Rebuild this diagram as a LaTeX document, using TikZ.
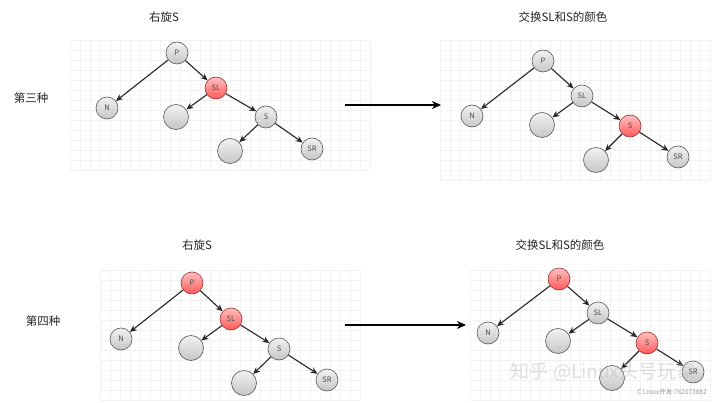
\documentclass[tikz,border=0pt]{standalone}
\usepackage{fontspec}
\setmainfont{Noto Sans CJK SC}
\usetikzlibrary{arrows.meta}
\tikzset{
  gridbg/.style={draw=gray!10, line width=0.35pt},
  nd/.style={circle, draw=gray!70!black, line width=0.6pt, minimum size=22pt, inner sep=0pt,
     top color=gray!10, bottom color=gray!45, font=\fontsize{7.5}{7.5}\selectfont, text=black!70},
  ndred/.style={nd, draw=red!50!black!80, top color=red!25, bottom color=red!65},
  ndempty/.style={nd, minimum size=25pt},
  edge/.style={draw=black!85, line width=1.1pt, -{Stealth[length=7pt,width=6pt]}},
  bigarrow/.style={draw=black, line width=1.8pt, -{Stealth[length=9pt,width=8pt]}},
  title/.style={font=\fontsize{11.5}{11.5}\selectfont, text=black!85},
  side/.style={font=\fontsize{11.5}{11.5}\selectfont, text=black!85}
}
\newcommand{\bggrid}[4]{%
  \foreach \gx in {#1,...,#3} {\draw[gridbg] (\gx*10,#2*10) -- (\gx*10,#4*10);}
  \foreach \gy in {#2,...,#4} {\draw[gridbg] (#1*10,\gy*10) -- (#3*10,\gy*10);}
}
\begin{document}
\begin{tikzpicture}[x=1pt,y=-1pt]
\useasboundingbox (0,0) rectangle (720,403);
\fill[white] (0,0) rectangle (720,403);
% grids (in units of 10px)
\bggrid{7}{4}{37}{17}
\bggrid{44}{4}{71}{18}
\bggrid{10}{27}{36}{40}
\bggrid{47}{27}{71}{40}
% titles
\node[title] (t1) at (164,17) {右旋S};
\node[title] (t2) at (563,17) {交换SL和S的颜色};
\node[title] (t3) at (197,245) {右旋S};
\node[title] (t4) at (560,245) {交换SL和S的颜色};
\node[side] (s1) at (31,98) {第三种};
\node[side] (s2) at (43,321) {第四种};
% panel 1
\node[nd] (aP) at (177,53) {P};
\node[ndred] (aSL) at (216,88) {SL};
\node[nd] (aN) at (107,108) {N};
\node[ndempty] (aE1) at (176,117) {};
\node[nd] (aS) at (266,117) {S};
\node[ndempty] (aE2) at (230,151) {};
\node[nd] (aSR) at (312,149) {SR};
\draw[edge] (aP) -- (aN);
\draw[edge] (aP) -- (aSL);
\draw[edge] (aSL) -- (aE1);
\draw[edge] (aSL) -- (aS);
\draw[edge] (aS) -- (aE2);
\draw[edge] (aS) -- (aSR);
% panel 2
\node[nd] (bP) at (543,61) {P};
\node[nd] (bSL) at (582,96) {SL};
\node[nd] (bN) at (472,116) {N};
\node[ndempty] (bE1) at (542,125) {};
\node[ndred] (bS) at (630,126) {S};
\node[ndempty] (bE2) at (596,160) {};
\node[nd] (bSR) at (678,157) {SR};
\draw[edge] (bP) -- (bN);
\draw[edge] (bP) -- (bSL);
\draw[edge] (bSL) -- (bE1);
\draw[edge] (bSL) -- (bS);
\draw[edge] (bS) -- (bE2);
\draw[edge] (bS) -- (bSR);
% panel 3
\node[ndred] (cP) at (192,283) {P};
\node[ndred] (cSL) at (231,319) {SL};
\node[nd] (cN) at (121,339) {N};
\node[ndempty] (cE1) at (191,348) {};
\node[nd] (cS) at (279,349) {S};
\node[ndempty] (cE2) at (244,383) {};
\node[nd] (cSR) at (327,380) {SR};
\draw[edge] (cP) -- (cN);
\draw[edge] (cP) -- (cSL);
\draw[edge] (cSL) -- (cE1);
\draw[edge] (cSL) -- (cS);
\draw[edge] (cS) -- (cE2);
\draw[edge] (cS) -- (cSR);
% panel 4
\node[ndred] (dP) at (559,279) {P};
\node[nd] (dSL) at (598,313) {SL};
\node[nd] (dN) at (488,333) {N};
\node[ndempty] (dE1) at (558,341) {};
\node[ndred] (dS) at (647,343) {S};
\node[ndempty] (dE2) at (612,378) {};
\node[nd] (dSR) at (693,372) {SR};
\draw[edge] (dP) -- (dN);
\draw[edge] (dP) -- (dSL);
\draw[edge] (dSL) -- (dE1);
\draw[edge] (dSL) -- (dS);
\draw[edge] (dS) -- (dE2);
\draw[edge] (dS) -- (dSR);
% big arrows
\coordinate (a1s) at (345,105);
\coordinate (a1e) at (441,105);
\coordinate (a2s) at (345,325);
\coordinate (a2e) at (466,325);
\draw[bigarrow] (a1s) -- (a1e);
\draw[bigarrow] (a2s) -- (a2e);
% watermark
\node[font=\fontsize{19}{19}\selectfont, text=gray!55, opacity=0.45] (wm) at (603,372) {知乎 @Linux头号玩家};
\node[font=\fontsize{6.5}{6.5}\selectfont, text=gray!80] (wm3) at (672,392) {C Linux开发:762073882};
\end{tikzpicture}
\end{document}
